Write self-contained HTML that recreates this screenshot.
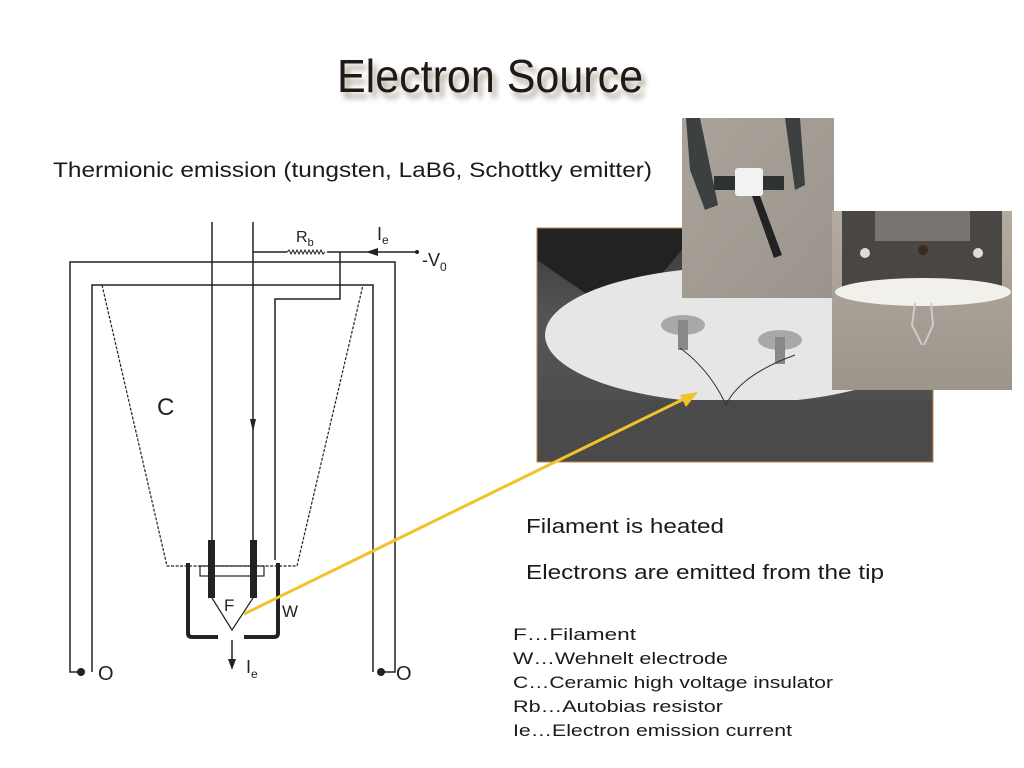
<!DOCTYPE html>
<html><head><meta charset="utf-8"><style>
html,body{margin:0;padding:0;background:#fff;}
svg{display:block;}
text{font-family:"Liberation Sans",sans-serif;}
</style></head><body>
<svg width="1024" height="768" viewBox="0 0 1024 768" xmlns="http://www.w3.org/2000/svg">
<defs>
<filter id="sh" x="-10%" y="-30%" width="120%" height="180%"><feGaussianBlur stdDeviation="3"/></filter>
<clipPath id="cp"><rect x="537" y="228" width="396" height="234"/></clipPath>
<linearGradient id="g1" x1="0" y1="0" x2="0" y2="1"><stop offset="0" stop-color="#3a3a3a"/><stop offset="0.4" stop-color="#555"/><stop offset="1" stop-color="#4a4a4a"/></linearGradient>
<linearGradient id="g2" x1="0" y1="0" x2="1" y2="1"><stop offset="0" stop-color="#aaa39a"/><stop offset="1" stop-color="#9a948c"/></linearGradient>
<linearGradient id="g3" x1="0" y1="0" x2="0" y2="1"><stop offset="0" stop-color="#b4aba0"/><stop offset="1" stop-color="#9c958b"/></linearGradient>
</defs>
<!-- title -->
<text x="341" y="98" font-size="46" fill="#8a7a66" opacity="0.7" filter="url(#sh)" textLength="306" lengthAdjust="spacingAndGlyphs">Electron Source</text>
<text x="337" y="92" font-size="46" fill="#1e1a18" textLength="306" lengthAdjust="spacingAndGlyphs">Electron Source</text>
<text x="53" y="177" font-size="21" fill="#1a1a1a" textLength="599" lengthAdjust="spacingAndGlyphs">Thermionic emission (tungsten, LaB6, Schottky emitter)</text>

<!-- diagram -->
<g fill="none" stroke="#222" stroke-width="1.5">
<path d="M81 672 L70 672 L70 262 L395 262 L395 672 L381 672"/>
<path d="M92 672 L92 285 L373 285 L373 672"/>
<line x1="212" y1="222" x2="212" y2="545"/>
<line x1="253" y1="222" x2="253" y2="545"/>
<path d="M253 252 L287 252"/>
<path d="M287 252 l2 -2 l2 4 l2 -4 l2 4 l2 -4 l2 4 l2 -4 l2 4 l2 -4 l2 4 l2 -4 l2 4 l2 -4 l2 4 l2 -4 l2 4 l2 -4 l2 4 l2 -2" stroke-width="1"/>
<path d="M327 252 L417 252"/>
<path d="M340 252 L340 299 L275 299 L275 560"/>
<path d="M102 285 L167 566 L297 566 L363 285" stroke-dasharray="3,1.5" stroke-width="1.2"/>
<rect x="200" y="566" width="64" height="10" stroke-width="1.2"/>
<path d="M212 598 L232 630 L253 598" stroke-width="1.2"/>
<line x1="232" y1="640" x2="232" y2="662"/>
</g>
<path d="M188 563 L188 633 Q188 637 192 637 L218 637" fill="none" stroke="#222" stroke-width="4"/>
<path d="M278 563 L278 633 Q278 637 274 637 L244 637" fill="none" stroke="#222" stroke-width="4"/>
<rect x="208" y="540" width="7" height="58" fill="#222"/>
<rect x="250" y="540" width="7" height="58" fill="#222"/>
<polygon points="228,659 236,659 232,670" fill="#222"/>
<polygon points="250,419 256,419 253,432" fill="#222"/>
<polygon points="378,248 378,256 366,252" fill="#222"/>
<circle cx="417" cy="252" r="2" fill="#222"/>
<circle cx="81" cy="672" r="4" fill="#222"/>
<circle cx="381" cy="672" r="4" fill="#222"/>
<text x="98" y="680" font-size="20" fill="#222">O</text>
<text x="396" y="680" font-size="20" fill="#222">O</text>
<text x="157" y="415" font-size="24" fill="#222">C</text>
<text x="224" y="611" font-size="17" fill="#222">F</text>
<text x="282" y="617" font-size="17" fill="#222">W</text>
<text x="296" y="242" font-size="16" fill="#222" font-family="Liberation Serif">R<tspan font-size="11" dy="4">b</tspan></text>
<text x="377" y="240" font-size="18" fill="#222" font-family="Liberation Serif">I<tspan font-size="12" dy="4">e</tspan></text>
<text x="422" y="266" font-size="18" fill="#222">-V<tspan font-size="12" dy="5">0</tspan></text>
<text x="246" y="673" font-size="18" fill="#222" font-family="Liberation Serif">I<tspan font-size="12" dy="5">e</tspan></text>

<!-- big photo -->
<g clip-path="url(#cp)">
<rect x="537" y="228" width="396" height="234" fill="url(#g1)"/>
<path d="M537 228 L700 228 L640 300 L610 310 L537 260 Z" fill="#222"/>
<ellipse cx="740" cy="335" rx="195" ry="68" fill="#e6e6e6"/>
<path d="M537 400 L935 400 L935 462 L537 462 Z" fill="#4a4a4a"/>
<ellipse cx="683" cy="325" rx="22" ry="10" fill="#a8a8a8"/>
<ellipse cx="780" cy="340" rx="22" ry="10" fill="#a8a8a8"/>
<rect x="678" y="320" width="10" height="30" fill="#888"/>
<rect x="775" y="337" width="10" height="27" fill="#888"/>
<path d="M680 348 Q710 370 726 405 Q740 375 795 355" fill="none" stroke="#333" stroke-width="1"/>
</g>
<rect x="537" y="228" width="396" height="234" fill="none" stroke="#c08040" stroke-width="1"/>
<!-- top photo -->
<rect x="682" y="118" width="152" height="180" fill="url(#g2)"/>
<path d="M690 170 L705 210 L718 205 L700 118 L686 118 Z" fill="#3c4040"/>
<path d="M785 118 L800 118 L805 185 L795 190 Z" fill="#3c4040"/>
<rect x="714" y="176" width="70" height="14" fill="#2e3232"/>
<rect x="735" y="168" width="28" height="28" rx="3" fill="#f2f2f2"/>
<path d="M752 196 L760 196 L782 255 L774 258 Z" fill="#222"/>
<!-- right photo -->
<rect x="832" y="211" width="180" height="179" fill="url(#g3)"/>
<rect x="842" y="211" width="160" height="80" fill="#4a4644"/>
<rect x="875" y="211" width="95" height="30" fill="#7a7470"/>
<circle cx="865" cy="253" r="5" fill="#ddd"/>
<circle cx="978" cy="253" r="5" fill="#ddd"/>
<circle cx="923" cy="250" r="5" fill="#3a2a20"/>
<ellipse cx="923" cy="292" rx="88" ry="14" fill="#f2f0ea"/>
<path d="M915 303 L912 325 L922 345 M931 303 L933 325 L924 345" fill="none" stroke="#ccc" stroke-width="2"/>

<!-- yellow arrow -->
<line x1="244" y1="614" x2="690" y2="396" stroke="#f2c22a" stroke-width="3"/>
<polygon points="698,392 680,395 686,407" fill="#f2c22a"/>

<!-- right text -->
<text x="526" y="533" font-size="20" fill="#1a1a1a" textLength="198" lengthAdjust="spacingAndGlyphs">Filament is heated</text>
<text x="526" y="579" font-size="20" fill="#1a1a1a" textLength="358" lengthAdjust="spacingAndGlyphs">Electrons are emitted from the tip</text>
<g font-size="17" fill="#1a1a1a">
<text x="513" y="640" textLength="123" lengthAdjust="spacingAndGlyphs">F…Filament</text>
<text x="513" y="664" textLength="215" lengthAdjust="spacingAndGlyphs">W…Wehnelt electrode</text>
<text x="513" y="688" textLength="320" lengthAdjust="spacingAndGlyphs">C…Ceramic high voltage insulator</text>
<text x="513" y="712" textLength="210" lengthAdjust="spacingAndGlyphs">Rb…Autobias resistor</text>
<text x="513" y="736" textLength="279" lengthAdjust="spacingAndGlyphs">Ie…Electron emission current</text>
</g>
</svg>
</body></html>
